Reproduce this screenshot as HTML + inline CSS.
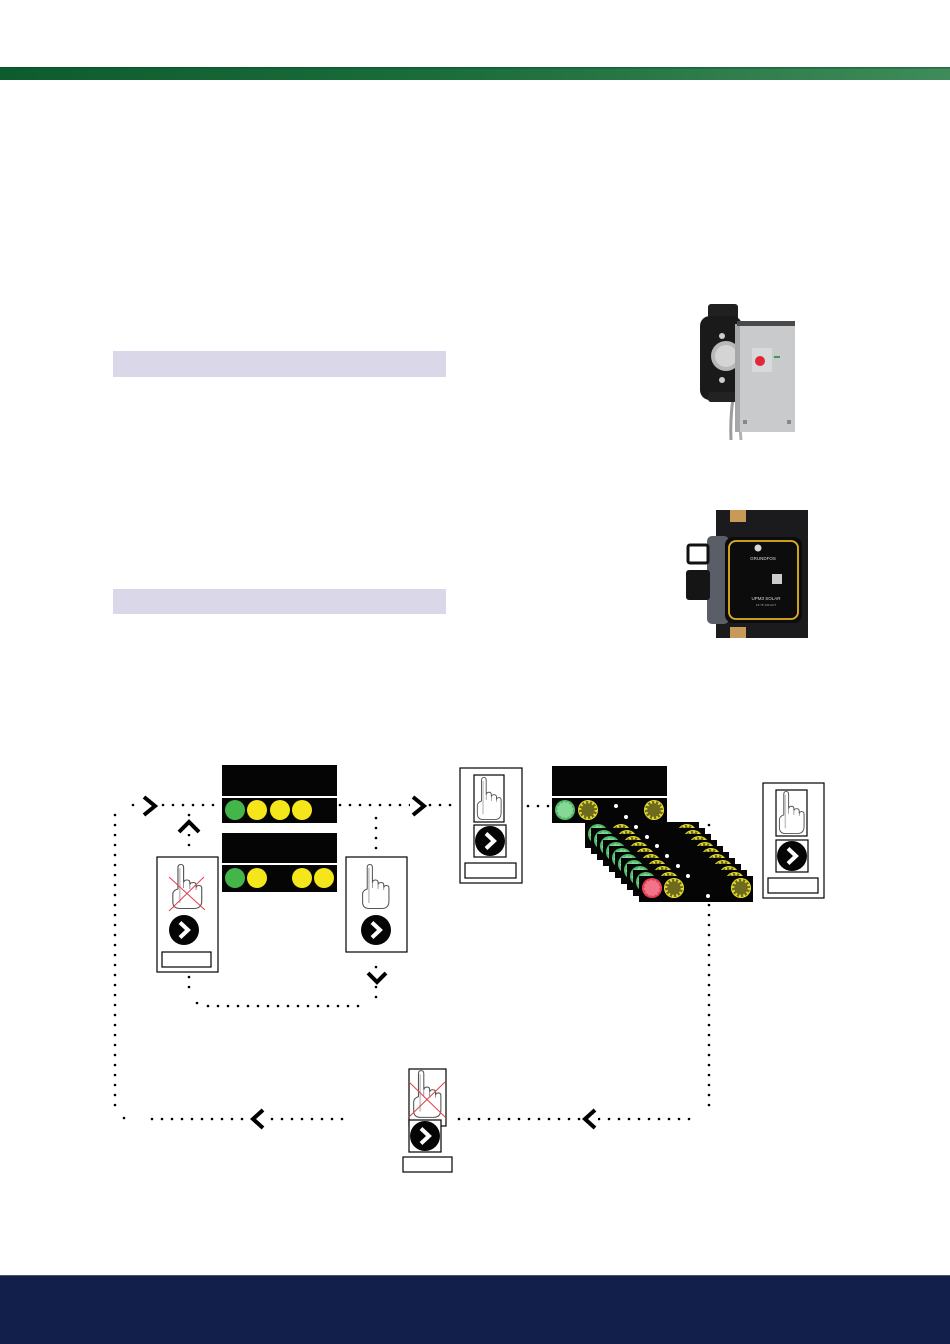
<!DOCTYPE html>
<html>
<head>
<meta charset="utf-8">
<style>
html,body{margin:0;padding:0;background:#fff;}
body{width:950px;height:1344px;overflow:hidden;font-family:"Liberation Sans",sans-serif;}
svg{display:block;}
.d{stroke:#000;stroke-width:2.6;stroke-linecap:round;stroke-dasharray:0 10;fill:none;}
.ch{stroke:#000;stroke-width:4;fill:none;stroke-linejoin:miter;}
.bx{fill:#fff;stroke:#000;stroke-width:1.2;}
.rx{stroke:#e0404a;stroke-width:1;}
</style>
</head>
<body>
<svg width="950" height="1344" viewBox="0 0 950 1344" xmlns="http://www.w3.org/2000/svg">
<defs>
  <linearGradient id="gband" x1="0" x2="1" y1="0" y2="0">
    <stop offset="0" stop-color="#0d5c2e"/>
    <stop offset="0.5" stop-color="#1c6e3c"/>
    <stop offset="1" stop-color="#3f8b5a"/>
  </linearGradient>
  <symbol id="hand" viewBox="0 0 30 47" preserveAspectRatio="none">
    <path d="M7 26 V4.5 Q7 1.5 9.5 1.5 Q12 1.5 12 4.5 V19.5 Q12.5 17 15 17 Q17.5 17 17.5 19.5 V21.5 Q18 19.5 20.5 19.5 Q23 19.5 23 22 V24.5 Q23.5 22.5 25.5 22.5 Q28 22.5 28 25 V38 Q28 45.5 21 45.5 H9 Q2.5 45.5 2.5 39 V31 Q2.5 27.5 7 26 Z" fill="#fff" stroke="#555" stroke-width="1"/>
    <path d="M8.6 5 V40" stroke="#c8c8c8" stroke-width="1.6"/>
    <path d="M12 19.5 V25 M17.5 21.5 V26 M23 24.5 V27" stroke="#777" stroke-width="0.7"/>
  </symbol>
  <g id="btn">
    <circle r="15" fill="#050505"/>
    <polyline points="-4,-7.5 4,0 -4,7.5" fill="none" stroke="#fff" stroke-width="4"/>
  </g>
  <symbol id="ys" viewBox="-10 -10 20 20">
    <circle r="10" fill="#e6df2e"/>
    <circle r="9" fill="#6e6a1e"/>
    <circle r="8" fill="none" stroke="#e6df2e" stroke-width="2.6" stroke-dasharray="1.8 2.39"/>
  </symbol>
  <symbol id="gs" viewBox="-10 -10 20 20">
    <circle r="10" fill="#54c06c"/>
    <circle r="8.2" fill="#86d896"/>
    <circle r="8.6" fill="none" stroke="#4cb866" stroke-width="2.4" stroke-dasharray="1.8 2.7"/>
  </symbol>
  <symbol id="rs" viewBox="-10 -10 20 20">
    <circle r="10" fill="#e8405a"/>
    <circle r="8.2" fill="#f27486"/>
    <circle r="8.6" fill="none" stroke="#e33c56" stroke-width="2.4" stroke-dasharray="1.8 2.7"/>
  </symbol>
</defs>

<!-- header band -->
<rect x="0" y="67" width="950" height="13" fill="url(#gband)"/>
<rect x="0" y="67" width="950" height="1.5" fill="#0b4a26" opacity="0.5"/>

<!-- lavender bars -->
<rect x="113" y="351" width="333" height="26" fill="#d9d7e8"/>
<rect x="113" y="589" width="333" height="25" fill="#d9d7e8"/>

<!-- Pump 1 -->
<g>
  <path d="M733 398 Q730 420 731 440" stroke="#9a9c9e" stroke-width="3" fill="none"/>
  <path d="M740 398 Q739 420 741 440" stroke="#b0b2b4" stroke-width="3" fill="none"/>
  <rect x="708" y="304" width="30" height="16" rx="3" fill="#202020"/>
  <rect x="700" y="316" width="42" height="84" rx="10" fill="#1a1a1a"/>
  <rect x="708" y="392" width="30" height="10" rx="3" fill="#222"/>
  <circle cx="726" cy="356" r="15" fill="#b8b8b8"/>
  <circle cx="726" cy="356" r="11" fill="#d4d4d4"/>
  <circle cx="722" cy="336" r="3" fill="#ccc"/>
  <circle cx="722" cy="380" r="3" fill="#ccc"/>
  <rect x="735" y="324" width="8" height="108" fill="#a7a8aa"/>
  <rect x="740" y="324" width="55" height="108" fill="#c9cacc"/>
  <rect x="737" y="321" width="58" height="5" fill="#4a4a4a"/>
  <rect x="752" y="348" width="20" height="24" fill="#d8d9da"/>
  <circle cx="760" cy="361" r="5" fill="#e0283a"/>
  <rect x="774" y="356" width="6" height="2" fill="#3a9a5a"/>
  <rect x="743" y="420" width="4" height="4" fill="#888"/>
  <rect x="787" y="420" width="4" height="4" fill="#888"/>
</g>

<!-- Pump 2 -->
<g>
  <rect x="716" y="510" width="92" height="128" fill="#1b1b1d"/>
  <rect x="730" y="510" width="16" height="12" fill="#c9995a"/>
  <rect x="730" y="627" width="16" height="11" fill="#c9995a"/>
  <rect x="707" y="536" width="22" height="88" rx="5" fill="#5a5e66"/>
  <rect x="688" y="545" width="20" height="18" rx="2" fill="#fff" stroke="#111" stroke-width="3"/>
  <rect x="686" y="570" width="24" height="30" rx="3" fill="#151515"/>
  <rect x="725" y="537" width="77" height="86" rx="8" fill="#0c0c0c"/>
  <rect x="729" y="541" width="69" height="78" rx="7" fill="none" stroke="#e2b31f" stroke-width="1.8"/>
  <circle cx="758" cy="548" r="3.5" fill="#d8d8d8"/>
  <text x="763" y="560" font-size="4.5" fill="#ddd" text-anchor="middle" font-family="Liberation Sans, sans-serif">GRUNDFOS</text>
  <rect x="772" y="574" width="10" height="10" fill="#ccc"/>
  <text x="766" y="600" font-size="4.5" fill="#ddd" text-anchor="middle" font-family="Liberation Sans, sans-serif">UPM3 SOLAR</text>
  <text x="766" y="606" font-size="3" fill="#aaa" text-anchor="middle" font-family="Liberation Sans, sans-serif">15-75 130 AUT</text>
</g>

<!-- dotted connectors -->
<path class="d" d="M133 805 H220"/>
<path class="d" d="M340 805 H456"/>
<path class="d" d="M528 806 H550"/>
<path class="d" d="M115 815 V1112"/>
<path class="d" d="M124 1118 H126"/>
<path class="d" d="M152 1119 H345"/>
<path class="d" d="M459 1119 H690"/>
<path class="d" d="M709 825 V1111"/>
<path class="d" d="M189 815 V855"/>
<path class="d" d="M189 977 V992"/>
<path class="d" d="M197 1003 H199"/>
<path class="d" d="M208 1006 H366"/>
<path class="d" d="M376 997 V962"/>
<path class="d" d="M376 818 V853"/>

<!-- chevrons -->
<rect x="141" y="795" width="18" height="22" fill="#fff"/>
<polyline class="ch" points="144,797 155,806 144,815"/>
<rect x="178" y="818" width="22" height="16" fill="#fff"/>
<polyline class="ch" points="179,832 189,822 199,832"/>
<rect x="410" y="795" width="18" height="22" fill="#fff"/>
<polyline class="ch" points="413,797 424,806 413,815"/>
<rect x="366" y="969" width="22" height="16" fill="#fff"/>
<polyline class="ch" points="368,973 377,982 386,973"/>
<rect x="250" y="1108" width="16" height="22" fill="#fff"/>
<polyline class="ch" points="263,1110 253,1119 263,1128"/>
<rect x="582" y="1108" width="16" height="22" fill="#fff"/>
<polyline class="ch" points="595,1110 585,1119 595,1128"/>

<!-- Display 1 -->
<rect x="222" y="765" width="115" height="31" fill="#050505"/>
<rect x="222" y="798" width="115" height="25" fill="#050505"/>
<circle cx="235" cy="810" r="10" fill="#44b549"/>
<circle cx="257" cy="810" r="10" fill="#f5e51b"/>
<circle cx="280" cy="810" r="10" fill="#f5e51b"/>
<circle cx="302" cy="810" r="10" fill="#f5e51b"/>

<!-- Display 2 -->
<rect x="222" y="833" width="115" height="30" fill="#050505"/>
<rect x="222" y="865" width="115" height="27" fill="#050505"/>
<circle cx="235" cy="878" r="10" fill="#44b549"/>
<circle cx="257" cy="878" r="10" fill="#f5e51b"/>
<circle cx="302" cy="878" r="10" fill="#f5e51b"/>
<circle cx="324" cy="878" r="10" fill="#f5e51b"/>

<!-- Left box (crossed hand) -->
<rect class="bx" x="157" y="857" width="61" height="115"/>
<use href="#hand" x="170" y="863" width="34" height="47"/>
<line class="rx" x1="169" y1="877" x2="205" y2="910"/>
<line class="rx" x1="204" y1="877" x2="169" y2="911"/>
<use href="#btn" x="184" y="930"/>
<rect class="bx" x="162" y="952" width="49" height="15"/>

<!-- Middle box (hand) -->
<rect class="bx" x="346" y="857" width="61" height="95"/>
<use href="#hand" x="360" y="863" width="31" height="47"/>
<use href="#btn" x="376" y="930"/>

<!-- Box 3 -->
<rect class="bx" x="460" y="768" width="62" height="115"/>
<rect class="bx" x="474" y="775" width="30" height="47"/>
<use href="#hand" x="475" y="776" width="28" height="45"/>
<rect class="bx" x="474" y="825" width="32" height="32"/>
<use href="#btn" x="490" y="841"/>
<rect class="bx" x="465" y="863" width="51" height="15"/>

<!-- Display 3 -->
<rect x="552" y="766" width="115" height="30" fill="#050505"/>
<rect x="552" y="798" width="115" height="25" fill="#050505"/>
<use href="#gs" x="555" y="800" width="20" height="20"/>
<use href="#ys" x="578" y="800" width="20" height="20"/>
<use href="#ys" x="644" y="800" width="20" height="20"/>

<!-- stacked layers -->
<g>
  <rect x="585" y="822" width="114" height="26" fill="#050505"/>
  <use href="#gs" x="588" y="824" width="20" height="20"/><use href="#ys" x="611" y="824" width="20" height="20"/><use href="#ys" x="677" y="824" width="20" height="20"/>
  <rect x="591" y="828" width="114" height="26" fill="#050505"/>
  <use href="#gs" x="594" y="830" width="20" height="20"/><use href="#ys" x="617" y="830" width="20" height="20"/><use href="#ys" x="683" y="830" width="20" height="20"/>
  <rect x="597" y="834" width="114" height="26" fill="#050505"/>
  <use href="#gs" x="600" y="836" width="20" height="20"/><use href="#ys" x="623" y="836" width="20" height="20"/><use href="#ys" x="689" y="836" width="20" height="20"/>
  <rect x="603" y="840" width="114" height="26" fill="#050505"/>
  <use href="#gs" x="606" y="842" width="20" height="20"/><use href="#ys" x="629" y="842" width="20" height="20"/><use href="#ys" x="695" y="842" width="20" height="20"/>
  <rect x="609" y="846" width="114" height="26" fill="#050505"/>
  <use href="#gs" x="612" y="848" width="20" height="20"/><use href="#ys" x="635" y="848" width="20" height="20"/><use href="#ys" x="701" y="848" width="20" height="20"/>
  <rect x="615" y="852" width="114" height="26" fill="#050505"/>
  <use href="#gs" x="618" y="854" width="20" height="20"/><use href="#ys" x="641" y="854" width="20" height="20"/><use href="#ys" x="707" y="854" width="20" height="20"/>
  <rect x="621" y="858" width="114" height="26" fill="#050505"/>
  <use href="#gs" x="624" y="860" width="20" height="20"/><use href="#ys" x="647" y="860" width="20" height="20"/><use href="#ys" x="713" y="860" width="20" height="20"/>
  <rect x="627" y="864" width="114" height="26" fill="#050505"/>
  <use href="#gs" x="630" y="866" width="20" height="20"/><use href="#ys" x="653" y="866" width="20" height="20"/><use href="#ys" x="719" y="866" width="20" height="20"/>
  <rect x="633" y="870" width="114" height="26" fill="#050505"/>
  <use href="#gs" x="636" y="872" width="20" height="20"/><use href="#ys" x="659" y="872" width="20" height="20"/><use href="#ys" x="725" y="872" width="20" height="20"/>
  <rect x="639" y="876" width="114" height="26" fill="#050505"/>
  <use href="#rs" x="642" y="878" width="20" height="20"/><use href="#ys" x="664" y="878" width="20" height="20"/><use href="#ys" x="731" y="878" width="20" height="20"/>
</g>
<!-- white diagonal dots -->
<g fill="#fff">
  <circle cx="616" cy="806" r="2"/>
  <circle cx="626" cy="817" r="2"/>
  <circle cx="636" cy="827" r="2"/>
  <circle cx="647" cy="837" r="2"/>
  <circle cx="657" cy="846" r="2"/>
  <circle cx="667" cy="856" r="2"/>
  <circle cx="678" cy="866" r="2"/>
  <circle cx="688" cy="876" r="2"/>
  <circle cx="708" cy="896" r="2"/>
</g>

<!-- Right box -->
<rect class="bx" x="763" y="783" width="61" height="115"/>
<rect class="bx" x="776" y="790" width="31" height="46"/>
<use href="#hand" x="777" y="790" width="29" height="45"/>
<rect class="bx" x="776" y="840" width="32" height="32"/>
<use href="#btn" x="792" y="856"/>
<rect class="bx" x="768" y="878" width="50" height="15"/>

<!-- Bottom box -->
<rect class="bx" x="409" y="1069" width="37" height="57"/>
<use href="#hand" x="411" y="1069" width="32" height="50"/>
<line class="rx" x1="409" y1="1082" x2="445" y2="1117"/>
<line class="rx" x1="445" y1="1082" x2="409" y2="1117"/>
<rect class="bx" x="409" y="1120" width="32" height="32"/>
<use href="#btn" x="425" y="1136"/>
<rect class="bx" x="403" y="1157" width="49" height="15"/>

<!-- footer -->
<rect x="0" y="1275" width="950" height="69" fill="#111f4a"/>
<rect x="0" y="1275" width="950" height="1" fill="#4a5368"/>
</svg>
</body>
</html>
